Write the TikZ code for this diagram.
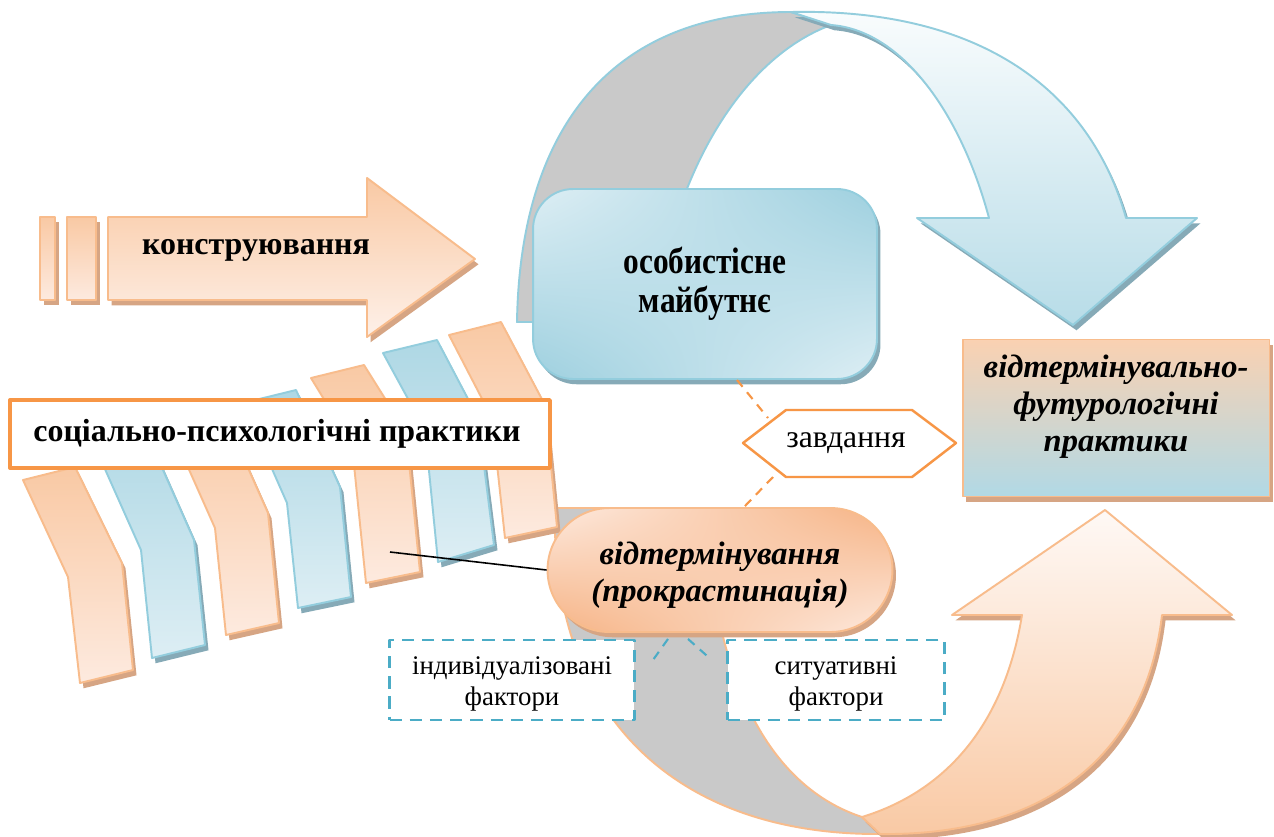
\documentclass[tikz,border=0pt]{standalone}
\usepackage{fontspec}
\setmainfont{Liberation Serif}
\newfontfamily\narrowserif[FakeStretch=0.85]{Liberation Serif}
\usetikzlibrary{calc,shadows,shadings}

\definecolor{peachline}{HTML}{F8BC8C}
\definecolor{peachmid}{HTML}{F9C9A4}
\definecolor{peachdark}{HTML}{F6B283}
\definecolor{peachlight}{HTML}{FDEADF}
\definecolor{peachshadow}{HTML}{D6A584}
\definecolor{blueline}{HTML}{93CDDD}
\definecolor{bluemid}{HTML}{9ED0DF}
\definecolor{bluelight}{HTML}{DDEEF4}
\definecolor{blueshadow}{HTML}{86AAB7}
\definecolor{orangeline}{HTML}{F79646}
\definecolor{dashblue}{HTML}{4BACC6}
\definecolor{ribbongray}{HTML}{C9C9C9}

\newcommand\boldtxt{\fontsize{18.2}{21}\selectfont\bfseries}
\newcommand\narrowtxt{\narrowserif\fontsize{21}{22}\selectfont\bfseries}
\newcommand\itbtxt{\fontsize{18.5}{21}\selectfont\bfseries\itshape}
\newcommand\smalltxt{\fontsize{15.3}{17.6}\selectfont}

\begin{document}
\begin{tikzpicture}[x=0.02cm, y=-0.02cm, line join=round,
  peach/.style={draw=peachline, line width=1.1pt, top color=peachmid, bottom color=peachlight},
  bluish/.style={draw=blueline, line width=1.1pt, top color=bluemid!75!bluelight, bottom color=bluelight},
  tanshadow/.style={drop shadow={shadow xshift=2pt, shadow yshift=-3pt, fill=peachshadow, opacity=1}},
  greyshadow/.style={drop shadow={shadow xshift=2pt, shadow yshift=-3pt, fill=blueshadow, opacity=1}},
  back/.style={fill=ribbongray, line width=1.1pt},
  dashbox/.style={draw=dashblue, dash pattern=on 7pt off 4.5pt, line width=1.3pt, fill=white, inner sep=0pt},
  dashlink/.style={dash pattern=on 5pt off 4pt, line width=1.2pt}]
  \useasboundingbox[fill=white] (0,0) rectangle (1274,836);

  % нижня стрілка (помаранчева)
  \draw[back, draw=peachline] (555,508) .. controls (550,720) and (680,835) .. (880,834)
    -- (862,817) .. controls (780,790) and (715,700) .. (705,508) -- cycle;
  \draw[draw=peachline, line width=1.1pt, top color=white!70!peachlight, bottom color=peachmid, tanshadow]
    (862,817) .. controls (950,790) and (1005,720) .. (1022,615) -- (952,615) -- (1105,510)
    -- (1232,615) -- (1162,615) .. controls (1145,760) and (1040,836) .. (880,834) -- cycle;

  % верхня стрілка (блакитна)
  \draw[back, draw=blueline] (517,322) .. controls (520,130) and (610,12) .. (791,12)
    -- (831,25) .. controls (750,55) and (690,150) .. (665,260) -- (650,322) -- cycle;
  \draw[draw=blueline, line width=1.1pt, top color=white!85!bluelight, bottom color=bluemid!60!bluelight, greyshadow]
    (791,12) .. controls (980,8) and (1090,90) .. (1126,218) -- (1197,218) -- (1073,325)
    -- (917,218) -- (989,218) .. controls (960,110) and (900,30) .. (831,25) -- cycle;

  % конструювання
  \draw[peach, tanshadow] (40,217) rectangle (55,300);
  \draw[peach, tanshadow] (67,217) rectangle (96,300);
  \draw[peach, tanshadow, top color=peachmid, bottom color=peachlight!70!white]
    (108,217) -- (367,217) -- (367,178) -- (475,259) -- (367,337) -- (367,300) -- (108,300) -- cycle;
  \node[font=\boldtxt] (kon) at (256,250) {конструювання};

  % смуги
  \draw[peach, tanshadow] (23,480) -- (75,467) -- (122,563) -- (133,670) -- (80,683) -- (68,577) -- cycle;
  \draw[bluish, greyshadow] (88,431) -- (140,418) -- (194,540) -- (205,645) -- (152,658) -- (141,550) -- cycle;
  \draw[peach, tanshadow] (167,420) -- (221,407) -- (268,513) -- (279,623) -- (226,635) -- (215,528) -- cycle;
  \draw[bluish, greyshadow] (243,403) -- (296,390) -- (340,487) -- (351,597) -- (298,608) -- (287,503) -- cycle;
  \draw[peach, tanshadow] (311,378) -- (364,365) -- (406,432) -- (420,572) -- (366,583) -- (352,445) -- cycle;
  \draw[bluish, greyshadow] (383,353) -- (437,340) -- (478,418) -- (494,545) -- (438,562) -- (425,430) -- cycle;
  \draw[peach, tanshadow] (449,335) -- (501,322) -- (545,405) -- (557,527) -- (505,538) -- (492,418) -- cycle;
  \coordinate (b5) at (390,552);

  \node[draw=orangeline, line width=2pt, fill=white, minimum width=10.8cm, minimum height=1.36cm,
    font=\boldtxt] (spp) at (280,434) {};
  \node[font=\boldtxt] (spptxt) at (277,434) {соціально-психологічні практики};

  % блоки
  \node[draw=blueline, line width=1.1pt, rounded corners=0.8cm, minimum width=6.88cm, minimum height=3.8cm,
    upper left=bluelight, lower right=bluelight, upper right=bluemid, lower left=bluemid,
    greyshadow, align=center, font=\narrowtxt] (mf) at (705,284) {особистісне\\майбутнє};
  \node[draw=peachline, line width=1.1pt, minimum width=6.14cm, minimum height=3.14cm,
    top color=peachmid!85!white, bottom color=bluemid!70!bluelight, tanshadow] (vfp) at (1116,418) {};
  \node[align=center, font=\itbtxt] (vfptxt) at (1116,407) {відтермінувально-\\футурологічні\\практики};

  \draw[orangeline, line width=1.4pt, fill=white] (743,443) -- (786,410) -- (912,410) -- (956,443)
    -- (912,477) -- (786,477) -- cycle;
  \node[font=\fontsize{18}{20}\selectfont] (zav) at (846,443) {завдання};

  \node[draw=peachline, line width=1.1pt, rounded corners=1.24cm, minimum width=6.9cm, minimum height=2.48cm,
    upper left=peachlight, lower right=peachlight, upper right=peachdark, lower left=peachdark,
    tanshadow] (proc) at (720,570) {};
  \node[align=center, font=\itbtxt] (proctxt) at (720,575) {відтермінування\\(прокрастинація)};
  \draw[orangeline, dashlink] ($(mf.south)+(32,0)$) -- ($(zav)+(-78,-25)$);
  \draw[orangeline, dashlink] ($(zav)+(-73,34)$) -- ($(proc.north)+(24,0)$);
  \draw[line width=0.9pt] (b5) -- (proc.west);

  \node[dashbox, minimum width=4.9cm, minimum height=1.6cm] (indf) at (512,680) {};
  \node[align=center, font=\smalltxt] (indftxt) at (512,684) {індивідуалізовані\\фактори};
  \node[dashbox, minimum width=4.34cm, minimum height=1.6cm] (sitf) at (836,680) {};
  \node[align=center, font=\smalltxt] (sitftxt) at (836,684) {ситуативні\\фактори};
  \draw[dashblue, dashlink] ($(proc.south)+(-52,6)$) -- ($(indf.north east)+(16,23)$);
  \draw[dashblue, dashlink] ($(proc.south)+(-32,6)$) -- ($(sitf.north west)+(-16,20)$);
\end{tikzpicture}
\end{document}
